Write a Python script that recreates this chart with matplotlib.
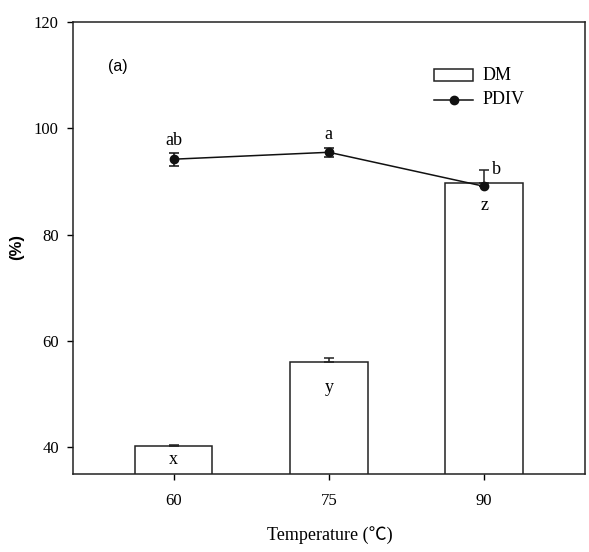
import matplotlib
matplotlib.use("Agg")
import matplotlib.pyplot as plt
from matplotlib.patches import Rectangle
from matplotlib.lines import Line2D
import numpy as np

categories = ["60", "75", "90"]
dm_values = [40.2, 56.0, 89.7]
dm_err = [0.25, 0.75, 2.5]
pdiv_values = [94.2, 95.5, 89.1]
pdiv_err = [1.2, 0.8, 0.0]
dm_letters = ["x", "y", "z"]
pdiv_letters = ["ab", "a", "b"]
yticks = [40, 60, 80, 100, 120]

serif = ["Liberation Serif", "DejaVu Serif"]

W, H = 589, 552
fig = plt.figure(figsize=(5.89, 5.52), dpi=100)
ax = fig.add_axes([72.7 / W, 1 - 474 / H, (585 - 72.7) / W, (474 - 22) / H])

x = np.arange(len(categories))
ax.bar(x, dm_values, width=0.5, color="white", edgecolor="#222222", linewidth=1.1, zorder=2)
ax.errorbar(x, dm_values, yerr=[np.zeros(len(dm_err)), dm_err], fmt="none",
            ecolor="#222222", elinewidth=1.1, capsize=3.9, capthick=1.1, zorder=3)
ax.errorbar(x, pdiv_values, yerr=pdiv_err, fmt="-o", color="#111111", markersize=6,
            linewidth=1.1, elinewidth=1.1, capsize=3.9, capthick=1.1, zorder=4)

ax.set_xlim(-0.65, 2.65)
ax.set_ylim(35, 120)
ax.set_xticks(x)
ax.set_xticklabels(categories)
ax.set_yticks(yticks)
ax.tick_params(direction="out", length=4, width=1, labelsize=12)
ax.tick_params(axis="x", pad=10)
ax.tick_params(axis="y", pad=6)
for lab in ax.get_xticklabels() + ax.get_yticklabels():
    lab.set_family(serif)
for s in ax.spines.values():
    s.set_linewidth(1.1)
    s.set_color("#222222")

# significance letters
dm_letter_y = [37.8, 51.3, 85.4]
pdiv_letter_pos = [(0, 97.8), (1, 98.9), (2.08, 92.3)]
for xi, yy, t in zip(x, dm_letter_y, dm_letters):
    ax.text(xi, yy, t, ha="center", va="center", fontsize=13, family=serif)
for (xx, yy), t in zip(pdiv_letter_pos, pdiv_letters):
    ax.text(xx, yy, t, ha="center", va="center", fontsize=13, family=serif)

fig.text(118 / W, 1 - 66 / H, "(a)", fontsize=11.5, family=["Liberation Sans", "DejaVu Sans"],
         ha="center", va="center")

# legend (drawn manually in figure coordinates)
fig.patches.append(Rectangle((434 / W, 1 - 81 / H), (473 - 434) / W, 12 / H,
                             transform=fig.transFigure, facecolor="white",
                             edgecolor="#222222", linewidth=1.1))
fig.lines.append(Line2D([434 / W, 473 / W], [1 - 100 / H, 1 - 100 / H],
                        transform=fig.transFigure, color="#111111", linewidth=1.1))
fig.lines.append(Line2D([453.5 / W], [1 - 100 / H], transform=fig.transFigure,
                        marker="o", color="#111111", markersize=6))
fig.text(483 / W, 1 - 76 / H, "DM", fontsize=13, family=serif, va="center", ha="left")
fig.text(483 / W, 1 - 100 / H, "PDIV", fontsize=13, family=serif, va="center", ha="left")

fig.text(17 / W, 1 - 247 / H, "(%)", rotation=90, fontsize=12, fontweight="bold",
         family=["Liberation Sans", "DejaVu Sans"], ha="center", va="center")
fig.text(330 / W, 1 - 535 / H, "Temperature (℃)", fontsize=13,
         family=["Liberation Serif", "Noto Sans CJK SC", "DejaVu Sans"], ha="center", va="center")

fig.savefig("out.png", dpi=100)
